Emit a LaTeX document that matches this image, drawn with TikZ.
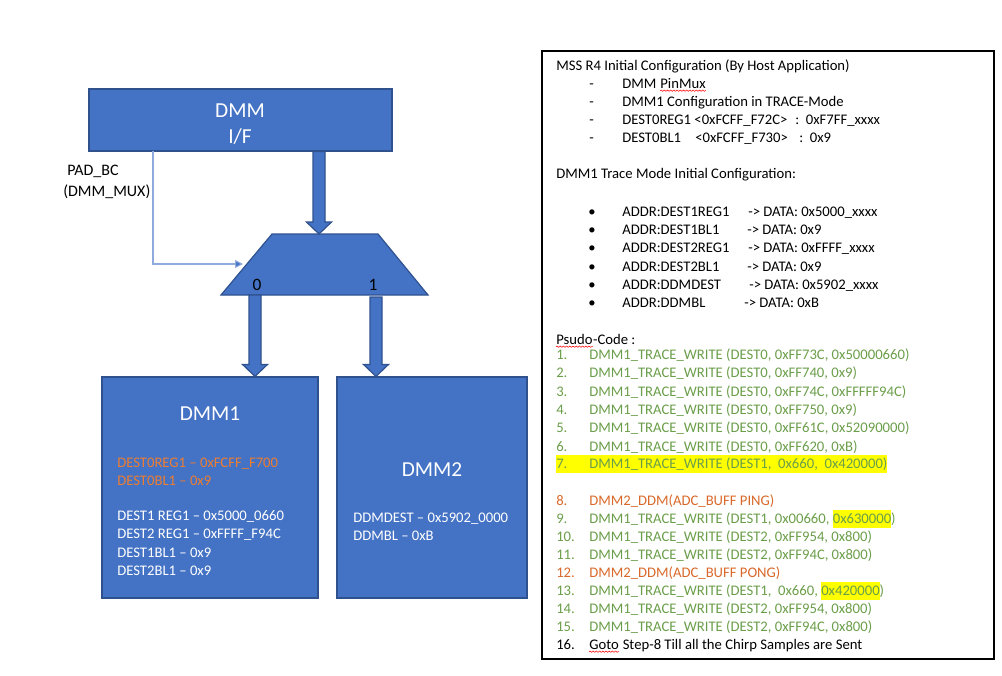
\documentclass[tikz,border=0pt]{standalone}
\usepackage{fontspec}
\setmainfont{Carlito}
\usetikzlibrary{arrows.meta,calc,decorations.pathmorphing}

\definecolor{dmmblue}{HTML}{4472C4}
\definecolor{dmmedge}{HTML}{2F528F}
\definecolor{selblue}{HTML}{8FAADC}
\definecolor{codegreen}{HTML}{6B9E4A}
\definecolor{codeorange}{HTML}{D9692B}
\definecolor{regorange}{HTML}{ED7D31}
\definecolor{hlyellow}{HTML}{FFFF00}

\newcommand{\hlt}[1]{{\setlength{\fboxsep}{0pt}\colorbox{hlyellow}{\strut #1}}}
\newcommand{\stepno}[1]{\makebox[24.75pt][l]{#1}}

\tikzset{
  block/.style={draw=dmmedge, line width=0.9pt, fill=dmmblue, inner sep=0pt},
  boxtitle/.style={text=white, align=center, font=\fontsize{16}{19.5}\selectfont},
  reg/.style={anchor=base west, inner sep=0pt, text=white, font=\fontsize{11}{13.5}\selectfont},
  txt/.style={anchor=base west, inner sep=0pt, font=\fontsize{11}{13.5}\selectfont},
  code/.style={txt, text=codegreen},
  blockarrow/.style={draw=dmmedge, line width=0.9pt, fill=dmmblue,
    to path={let \p1=(\tikztostart), \p2=(\tikztotarget) in
      (\x1-4.5pt,\y1) -- (\x1-4.5pt,\y2+9pt) -- (\x1-9.4pt,\y2+9pt) -- (\x1,\y2)
      -- (\x1+9.4pt,\y2+9pt) -- (\x1+4.5pt,\y2+9pt) -- (\x1+4.5pt,\y1) -- cycle}},
  selline/.style={draw=selblue, line width=0.8pt, -{Triangle[length=6pt,width=6pt,fill=dmmblue]}},
  squiggle/.style={red, line width=0.4pt, decorate, decoration={snake, amplitude=0.5pt, segment length=2.4pt}}
}

\begin{document}
\begin{tikzpicture}[x=0.75pt, y=-0.75pt]
\useasboundingbox (0,0) rectangle (1002,675);

% left side: interface, mux and the two DMM blocks
\node[block, minimum width=227.25pt, minimum height=46.5pt] (dmmif) at (240.5,120) {};
\node[boxtitle] (dmmiftitle) at (240,124) {DMM\\I/F};
\node[block, minimum width=162pt, minimum height=165.75pt] (dmm1) at (210,487.5) {};
\node[block, minimum width=142.5pt, minimum height=165.75pt] (dmm2) at (432,487.5) {};

% mux
\coordinate (muxbl) at (221,295);
\coordinate (muxtl) at (272,234);
\coordinate (muxtr) at (378,234);
\coordinate (muxbr) at (428,295);
\draw[block] (muxbl) -- (muxtl) -- (muxtr) -- (muxbr) -- cycle;
\node[font=\fontsize{13}{15}\selectfont, inner sep=0pt] (sel0) at (257,285) {0};
\node[font=\fontsize{13}{15}\selectfont, inner sep=0pt] (sel1) at (373,285) {1};

\node[anchor=west, align=left, inner sep=0pt, font=\fontsize{12}{15.75}\selectfont] (padbc) at (63,181.5)
  {\hspace*{3pt}PAD\_BC\\(DMM\_MUX)};

\coordinate (muxin) at (319,234);
\coordinate (ifout) at (dmmif.south -| muxin);
\coordinate (out0) at (255,295);
\coordinate (out1) at (376,297);
\coordinate (in0) at (dmm1.north -| out0);
\coordinate (in1) at (dmm2.north -| out1);
\coordinate (padsrc) at (153,151);
\coordinate (muxsel) at (243,264);

\draw[blockarrow] (ifout) to (muxin);
\draw[blockarrow] (out0) to (in0);
\draw[blockarrow] (out1) to (in1);
\draw[selline] (padsrc) |- (muxsel);

\node[boxtitle] (dmm1title) at (210,414) {DMM1};
\node[reg, text=regorange] (r1) at (117,467) {DEST0REG1 -- 0xFCFF\_F700};
\node[reg, text=regorange] (r2) at (117,485) {DEST0BL1 -- 0x9};
\node[reg] (r3) at (117,520) {DEST1 REG1 -- 0x5000\_0660};
\node[reg] (r4) at (117,538) {DEST2 REG1 -- 0xFFFF\_F94C};
\node[reg] (r5) at (117,557) {DEST1BL1 -- 0x9};
\node[reg] (r6) at (117,575) {DEST2BL1 -- 0x9};

\node[boxtitle] (dmm2title) at (432,470) {DMM2};
\node[reg] (d1) at (353,522) {DDMDEST -- 0x5902\_0000};
\node[reg] (d2) at (353,540) {DDMBL -- 0xB};

% right side: configuration notes
\node[draw=black, line width=0.9pt, minimum width=339pt, minimum height=456pt, inner sep=0pt] (info) at (768,355) {};

\node[txt] (h0) at (556,70) {MSS R4 Initial Configuration (By Host Application)};
\node[txt] (h1d) at (589,88) {-};
\node[txt] (h1) at (622,88) {DMM};
\node[txt] (h1b) at ([xshift=2.6pt]h1.base east) {PinMux};
\node[txt] (h2d) at (589,106) {-};
\node[txt] (h2) at (622,106) {DMM1 Configuration in TRACE-Mode};
\node[txt] (h3d) at (589,124) {-};
\node[txt] (h3) at (622,124) {DEST0REG1 <0xFCFF\_F72C>};
\node[txt] (h3v) at (795,124) {:\ \ 0xF7FF\_xxxx};
\node[txt] (h4d) at (589,142) {-};
\node[txt] (h4) at (622,142) {DEST0BL1};
\node[txt] (h4a) at (695,142) {<0xFCFF\_F730>};
\node[txt] (h4v) at (799,142) {:\ \ 0x9};

\node[txt] (t0) at (556,178) {DMM1 Trace Mode Initial Configuration:};
\node[txt] (t1b) at (588,216) {•};
\node[txt] (t1) at (622,216) {ADDR:DEST1REG1};
\node[txt] (t1v) at (748,216) {-> DATA: 0x5000\_xxxx};
\node[txt] (t2b) at (588,234) {•};
\node[txt] (t2) at (622,234) {ADDR:DEST1BL1};
\node[txt] (t2v) at (747,234) {-> DATA: 0x9};
\node[txt] (t3b) at (588,252) {•};
\node[txt] (t3) at (622,252) {ADDR:DEST2REG1};
\node[txt] (t3v) at (748,252) {-> DATA: 0xFFFF\_xxxx};
\node[txt] (t4b) at (588,271) {•};
\node[txt] (t4) at (622,271) {ADDR:DEST2BL1};
\node[txt] (t4v) at (747,271) {-> DATA: 0x9};
\node[txt] (t5b) at (588,289) {•};
\node[txt] (t5) at (622,289) {ADDR:DDMDEST};
\node[txt] (t5v) at (749,289) {-> DATA: 0x5902\_xxxx};
\node[txt] (t6b) at (588,307) {•};
\node[txt] (t6) at (622,307) {ADDR:DDMBL};
\node[txt] (t6v) at (744,307) {-> DATA: 0xB};

\node[txt] (p0) at (556,344) {Psudo};
\node[txt] (p0b) at (p0.base east) {-Code :};
\node[code] (p1) at (556,359) {\stepno{1.}DMM1\_TRACE\_WRITE (DEST0, 0xFF73C, 0x50000660)};
\node[code] (p2) at (556,377) {\stepno{2.}DMM1\_TRACE\_WRITE (DEST0, 0xFF740, 0x9)};
\node[code] (p3) at (556,396) {\stepno{3.}DMM1\_TRACE\_WRITE (DEST0, 0xFF74C, 0xFFFFF94C)};
\node[code] (p4) at (556,414) {\stepno{4.}DMM1\_TRACE\_WRITE (DEST0, 0xFF750, 0x9)};
\node[code] (p5) at (556,432) {\stepno{5.}DMM1\_TRACE\_WRITE (DEST0, 0xFF61C, 0x52090000)};
\node[code] (p6) at (556,451) {\stepno{6.}DMM1\_TRACE\_WRITE (DEST0, 0xFF620, 0xB)};
\node[code] (p7) at (556,468) {\hlt{\stepno{7.}DMM1\_TRACE\_WRITE (DEST1,\ \ 0x660,\ \ 0x420000)}};
\node[txt, text=codeorange] (p8) at (556,505) {\stepno{8.}DMM2\_DDM(ADC\_BUFF PING)};
\node[code] (p9) at (556,523) {\stepno{9.}DMM1\_TRACE\_WRITE (DEST1, 0x00660, \hlt{0x630000})};
\node[code] (p10) at (556,541) {\stepno{10.}DMM1\_TRACE\_WRITE (DEST2, 0xFF954, 0x800)};
\node[code] (p11) at (556,559) {\stepno{11.}DMM1\_TRACE\_WRITE (DEST2, 0xFF94C, 0x800)};
\node[txt, text=codeorange] (p12) at (556,577) {\stepno{12.}DMM2\_DDM(ADC\_BUFF PONG)};
\node[code] (p13) at (556,595) {\stepno{13.}DMM1\_TRACE\_WRITE (DEST1,\ \ 0x660, \hlt{0x420000})};
\node[code] (p14) at (556,613) {\stepno{14.}DMM1\_TRACE\_WRITE (DEST2, 0xFF954, 0x800)};
\node[code] (p15) at (556,631) {\stepno{15.}DMM1\_TRACE\_WRITE (DEST2, 0xFF94C, 0x800)};
\node[txt] (p16n) at (556,649) {16.};
\node[txt] (p16) at (589,649) {Goto};
\node[txt] (p16b) at ([xshift=2.6pt]p16.base east) {Step-8 Till all the Chirp Samples are Sent};

% spell-check marks
\draw[squiggle] ([yshift=-2pt]h1b.base west) -- ([yshift=-2pt]h1b.base east);
\draw[squiggle] ([yshift=-2pt]p0.base west) -- ([yshift=-2pt]p0.base east);
\draw[squiggle] ([yshift=-2pt]p16.base west) -- ([yshift=-2pt]p16.base east);
\end{tikzpicture}
\end{document}
